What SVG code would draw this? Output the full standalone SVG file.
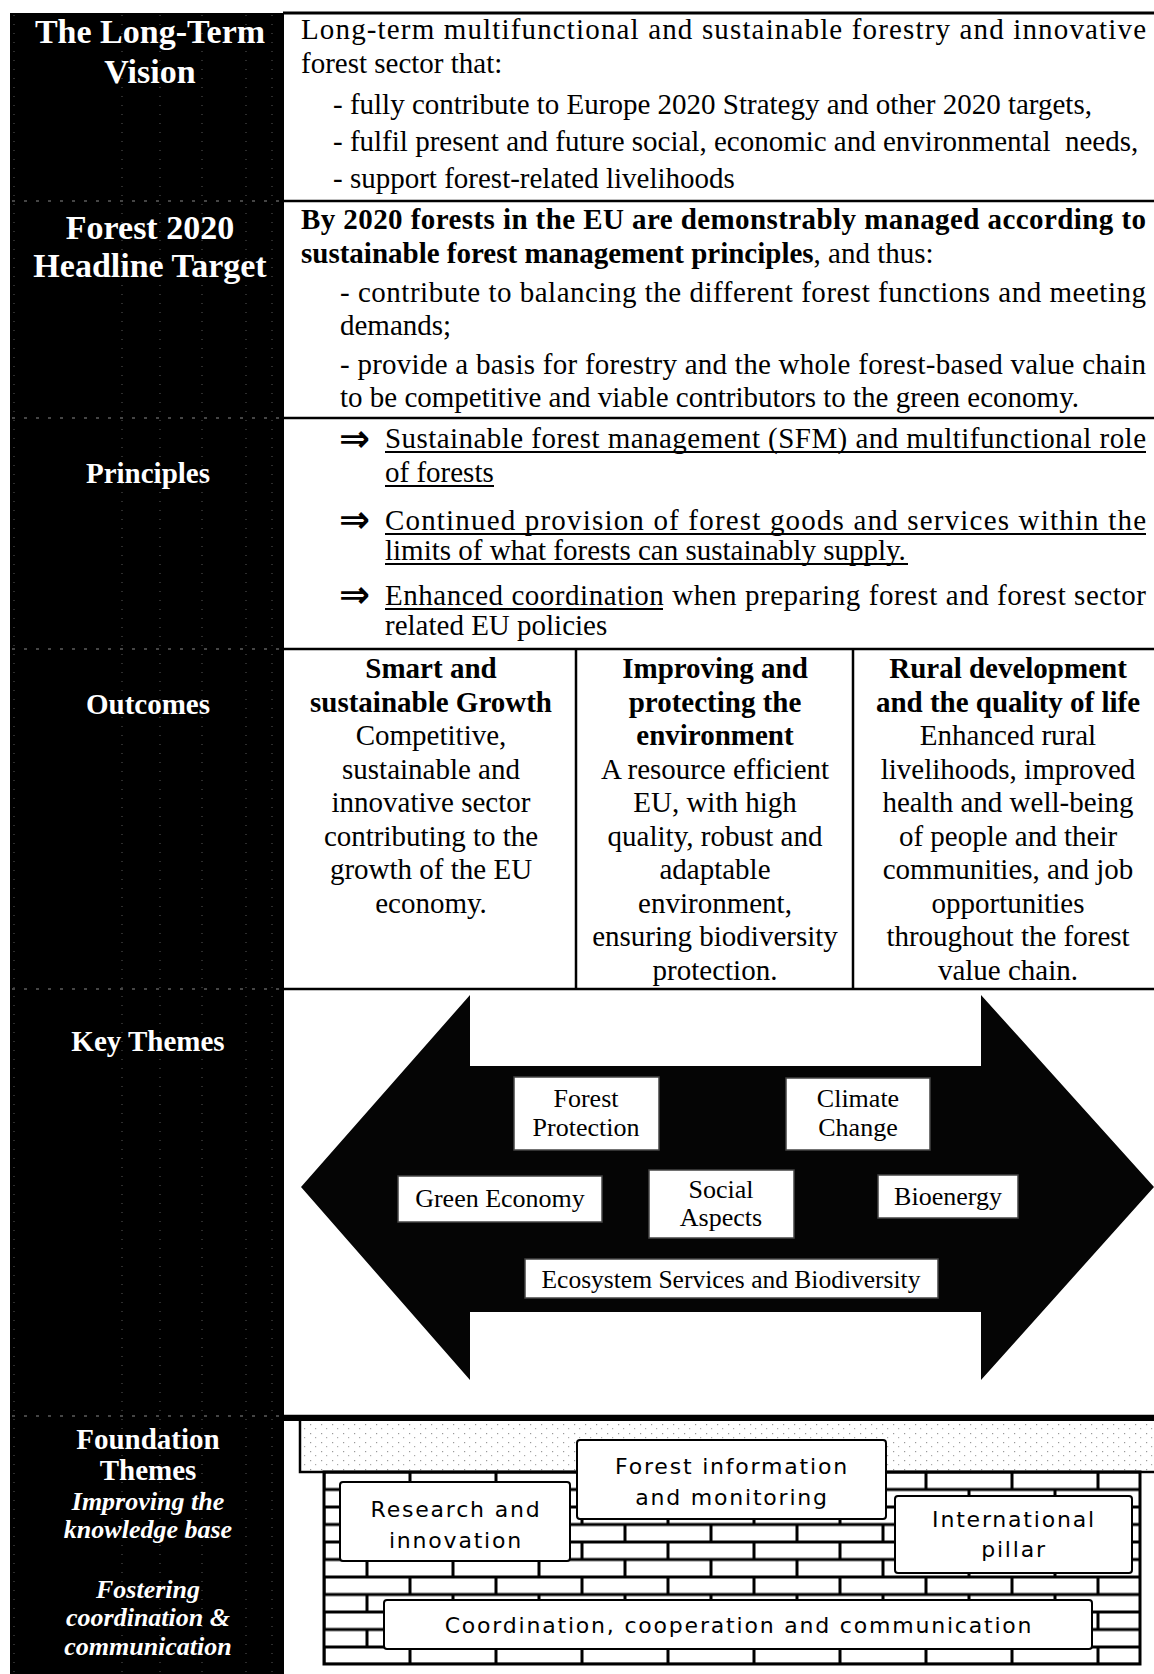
<svg xmlns="http://www.w3.org/2000/svg" width="1154" height="1674" viewBox="0 0 1154 1674">
<defs>
<style>
.t{font-family:"Liberation Serif","Times New Roman",serif;font-size:29px;fill:#000}
.b{font-weight:bold}
.c{text-anchor:middle}
.lab{font-family:"Liberation Serif","Times New Roman",serif;font-weight:bold;fill:#fff;text-anchor:middle}
.big{font-size:34px}
.mid{font-size:29px}
.it{font-size:26px;font-style:italic}
.th{font-family:"Liberation Serif","Times New Roman",serif;font-size:26px;text-anchor:middle;fill:#000}
.sn{font-family:"DejaVu Sans",Verdana,sans-serif;font-size:22px;letter-spacing:1.8px;text-anchor:middle;fill:#000}
.arr{font-family:"DejaVu Sans",sans-serif;font-size:37px;font-weight:bold;fill:#000}
.rule{stroke:#000;stroke-width:2.5;fill:none}
.ul{stroke:#000;stroke-width:2.2}
.box{fill:#fff;stroke:#444;stroke-width:1.5}
.fbox{fill:#fff;stroke:#000;stroke-width:2}
.scan{stroke:#8a8a8a;stroke-width:1.2;stroke-dasharray:3 9;fill:none}
.vscan{stroke:#5a5a5a;stroke-width:1;stroke-dasharray:1 8;fill:none}
</style>
<pattern id="bricks" patternUnits="userSpaceOnUse" x="23" y="1454.5" width="86" height="35">
<rect width="86" height="35" fill="#fff"/>
<path d="M0 0H86M0 17.5H86M0 35H86M0 0V17.5M86 0V17.5M43 17.5V35" stroke="#000" stroke-width="3"/>
</pattern>
<pattern id="speck" patternUnits="userSpaceOnUse" width="11" height="9">
<rect width="11" height="9" fill="#fff"/>
<rect x="2" y="2" width="1.2" height="1.2" fill="#999"/>
<rect x="7" y="6" width="1.2" height="1.2" fill="#aaa"/>
</pattern>
</defs>

<rect width="1154" height="1674" fill="#fff"/>

<!-- left black label column -->
<g id="label-column">
<rect x="10" y="13" width="273" height="1661" fill="#000"/>
<path class="scan" d="M12 201H282M12 418H282M12 649H282M12 989H282M12 1416H282"/>
<path class="vscan" d="M14 15V1674M122 15V1674M160 15V1674M202 15V1674M246 15V1674M272 15V1674"/>
</g>

<!-- table rules -->
<g id="table">
<line x1="283" y1="13" x2="1154" y2="13" stroke="#000" stroke-width="3"/>
<line x1="283" y1="13" x2="283" y2="1674" stroke="#000" stroke-width="2"/>
<path class="rule" d="M283 201H1154M283 418H1154M283 649H1154M283 989H1154M283 1416H1154"/>
<path class="rule" d="M576 649V989M853 649V989"/>
</g>

<g id="row-vision">
<text class="lab big" x="150" y="43">The Long-Term</text>
<text class="lab big" x="150" y="83">Vision</text>
<text class="t" x="301" y="39" textLength="845">Long-term multifunctional and sustainable forestry and innovative</text>
<text class="t" x="301" y="73">forest sector that:</text>
<text class="t" x="333" y="114">- fully contribute to Europe 2020 Strategy and other 2020 targets,</text>
<text class="t" x="333" y="151" xml:space="preserve">- fulfil present and future social, economic and environmental  needs,</text>
<text class="t" x="333" y="188">- support forest-related livelihoods</text>
</g>

<g id="row-target">
<text class="lab big" x="150" y="239">Forest 2020</text>
<text class="lab big" x="150" y="277">Headline Target</text>
<text class="t b" x="301" y="229" textLength="845">By 2020 forests in the EU are demonstrably managed according to</text>
<text class="t" x="301" y="263"><tspan class="b">sustainable forest management principles</tspan>, and thus:</text>
<text class="t" x="340" y="302" textLength="806">- contribute to balancing the different forest functions and meeting</text>
<text class="t" x="340" y="335">demands;</text>
<text class="t" x="340" y="374" textLength="806">- provide a basis for forestry and the whole forest-based value chain</text>
<text class="t" x="340" y="407">to be competitive and viable contributors to the green economy.</text>
</g>

<g id="row-principles">
<text class="lab mid" x="148" y="483">Principles</text>
<text class="arr" x="339" y="451">⇒</text>
<text class="arr" x="339" y="532">⇒</text>
<text class="arr" x="339" y="607">⇒</text>
<text class="t" x="385" y="448" textLength="761">Sustainable forest management (SFM) and multifunctional role</text>
<text class="t" x="385" y="482">of forests</text>
<text class="t" x="385" y="530" textLength="761">Continued provision of forest goods and services within the</text>
<text class="t" x="385" y="560">limits of what forests can sustainably supply.</text>
<text class="t" x="385" y="605" textLength="761">Enhanced coordination when preparing forest and forest sector</text>
<text class="t" x="385" y="635">related EU policies</text>
<path class="ul" d="M385 452H1146M385 486H494M385 534H1146M385 564H908M385 609H663"/>
</g>

<g id="row-outcomes">
<text class="lab mid" x="148" y="714">Outcomes</text>
<g id="outcome-growth">
<text class="t b c" x="431" y="678">Smart and</text>
<text class="t b c" x="431" y="712">sustainable Growth</text>
<text class="t c" x="431" y="745">Competitive,</text>
<text class="t c" x="431" y="779">sustainable and</text>
<text class="t c" x="431" y="812">innovative sector</text>
<text class="t c" x="431" y="846">contributing to the</text>
<text class="t c" x="431" y="879">growth of the EU</text>
<text class="t c" x="431" y="913">economy.</text>
</g>
<g id="outcome-environment">
<text class="t b c" x="715" y="678">Improving and</text>
<text class="t b c" x="715" y="712">protecting the</text>
<text class="t b c" x="715" y="745">environment</text>
<text class="t c" x="715" y="779">A resource efficient</text>
<text class="t c" x="715" y="812">EU, with high</text>
<text class="t c" x="715" y="846">quality, robust and</text>
<text class="t c" x="715" y="879">adaptable</text>
<text class="t c" x="715" y="913">environment,</text>
<text class="t c" x="715" y="946">ensuring biodiversity</text>
<text class="t c" x="715" y="980">protection.</text>
</g>
<g id="outcome-rural">
<text class="t b c" x="1008" y="678">Rural development</text>
<text class="t b c" x="1008" y="712">and the quality of life</text>
<text class="t c" x="1008" y="745">Enhanced rural</text>
<text class="t c" x="1008" y="779">livelihoods, improved</text>
<text class="t c" x="1008" y="812">health and well-being</text>
<text class="t c" x="1008" y="846">of people and their</text>
<text class="t c" x="1008" y="879">communities, and job</text>
<text class="t c" x="1008" y="913">opportunities</text>
<text class="t c" x="1008" y="946">throughout the forest</text>
<text class="t c" x="1008" y="980">value chain.</text>
</g>
</g>

<g id="connectors">
<polygon points="301,1187 470,995 470,1066 981,1066 981,995 1154,1187 981,1380 981,1312 470,1312 470,1380" fill="#050505"/>
</g>

<g id="row-themes">
<text class="lab mid" x="148" y="1051">Key Themes</text>
<g id="theme-forest-protection">
<rect class="box" x="514" y="1077" width="145" height="73"/>
<text class="th" x="586" y="1107">Forest</text>
<text class="th" x="586" y="1136">Protection</text>
</g>
<g id="theme-climate-change">
<rect class="box" x="786" y="1078" width="144" height="72"/>
<text class="th" x="858" y="1107">Climate</text>
<text class="th" x="858" y="1136">Change</text>
</g>
<g id="theme-green-economy">
<rect class="box" x="398" y="1176" width="204" height="46"/>
<text class="th" x="500" y="1207">Green Economy</text>
</g>
<g id="theme-social-aspects">
<rect class="box" x="649" y="1170" width="145" height="68"/>
<text class="th" x="721" y="1198">Social</text>
<text class="th" x="721" y="1226">Aspects</text>
</g>
<g id="theme-bioenergy">
<rect class="box" x="878" y="1175" width="140" height="43"/>
<text class="th" x="948" y="1205">Bioenergy</text>
</g>
<g id="theme-ecosystem">
<rect class="box" x="525" y="1259" width="413" height="39"/>
<text class="th" x="731" y="1288" style="font-size:25.5px">Ecosystem Services and Biodiversity</text>
</g>
</g>

<g id="row-foundation">
<text class="lab mid" x="148" y="1449">Foundation</text>
<text class="lab mid" x="148" y="1480">Themes</text>
<text class="lab it" x="148" y="1510">Improving the</text>
<text class="lab it" x="148" y="1538">knowledge base</text>
<text class="lab it" x="148" y="1598">Fostering</text>
<text class="lab it" x="148" y="1626">coordination &amp;</text>
<text class="lab it" x="148" y="1655">communication</text>
<g id="wall">
<rect x="300" y="1419" width="860" height="53" fill="url(#speck)" stroke="#000" stroke-width="2.5"/>
<line x1="283" y1="1419" x2="1154" y2="1419" stroke="#000" stroke-width="4"/>
<rect x="324" y="1472" width="816" height="192" fill="url(#bricks)" stroke="#000" stroke-width="3"/>
</g>
<g id="foundation-forest-information">
<rect class="fbox" x="577" y="1440" width="309" height="79" rx="3"/>
<text class="sn" x="732" y="1474">Forest information</text>
<text class="sn" x="732" y="1505">and monitoring</text>
</g>
<g id="foundation-research">
<rect class="fbox" x="340" y="1482" width="230" height="79" rx="3"/>
<text class="sn" x="456" y="1517">Research and</text>
<text class="sn" x="456" y="1548">innovation</text>
</g>
<g id="foundation-international">
<rect class="fbox" x="895" y="1496" width="237" height="77" rx="3"/>
<text class="sn" x="1014" y="1527">International</text>
<text class="sn" x="1014" y="1557">pillar</text>
</g>
<g id="foundation-coordination">
<rect class="fbox" x="384" y="1600" width="708" height="49" rx="3"/>
<text class="sn" x="739" y="1633">Coordination, cooperation and communication</text>
</g>
</g>
</svg>
